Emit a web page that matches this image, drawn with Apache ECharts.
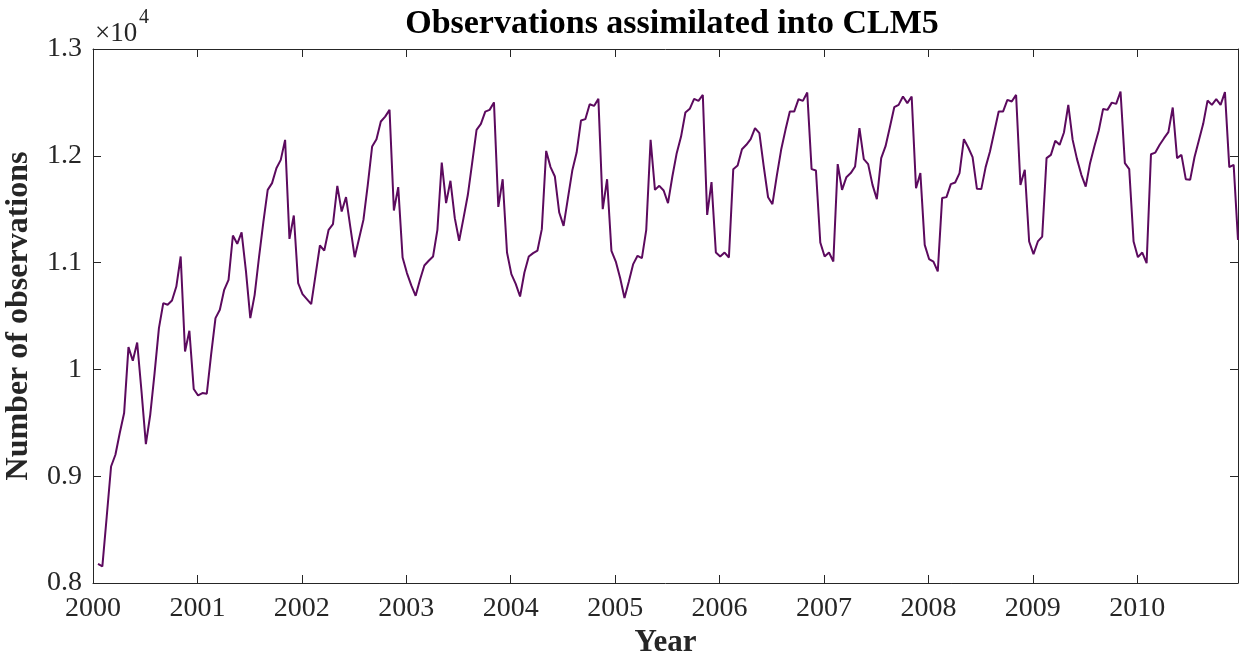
<!DOCTYPE html>
<html>
<head>
<meta charset="utf-8">
<script src="https://cdn.jsdelivr.net/npm/echarts@6/dist/echarts.min.js"></script>
<style>
html,body{margin:0;padding:0;background:#fff;}
#chart{width:1243px;height:656px;}
</style>
</head>
<body>
<div id="chart"></div>
<script>
// Semi-monthly observation counts, starting early Jan 2000
const startYear = 2000.048;
const stepYears = 1 / 24;
const observations = [
8178,8155,8620,9091,9201,9404,9591,10209,10081,10252,9793,9301,9575,9966,10387,10621,10605,10645,10776,11057,10168,10362,9816,9756,
9778,9772,10140,10480,10558,10745,10839,11254,11176,11282,10920,10480,10698,11050,11380,11681,11744,11884,11962,12149,11222,11441,10808,10705,
10658,10611,10886,11160,11113,11307,11360,11719,11478,11613,11330,11051,11225,11400,11728,12087,12156,12321,12367,12430,11488,11707,11048,10902,
10786,10689,10839,10973,11017,11057,11307,11937,11557,11766,11416,11204,11416,11635,11937,12243,12299,12414,12430,12500,11522,11781,11094,10892,
10801,10683,10907,11057,11089,11113,11313,12046,11894,11806,11469,11344,11604,11862,12030,12330,12343,12483,12467,12533,11501,11781,11110,11010,
10855,10668,10823,10986,11064,11042,11307,12149,11681,11719,11675,11557,11806,12025,12180,12405,12440,12533,12515,12570,11447,11753,11094,11057,
11094,11048,11875,11909,12062,12103,12156,12259,12212,11900,11612,11547,11812,12056,12243,12414,12414,12530,12514,12592,11875,11862,11188,11057,
11094,11010,11922,11681,11800,11838,11900,12259,11969,11922,11728,11594,11978,12090,12270,12455,12477,12555,12493,12555,11697,11838,11166,11033,
11010,10917,11604,11613,11735,11750,11838,12156,12078,11987,11691,11688,11894,12040,12227,12414,12414,12524,12508,12570,11728,11869,11198,11079,
11198,11244,11978,12009,12140,12103,12218,12477,12149,11969,11822,11712,11931,12090,12237,12439,12430,12498,12486,12602,11931,11875,11198,11051,
11094,10995,12015,12030,12103,12165,12221,12452,11978,12009,11781,11775,11987,12143,12299,12517,12477,12530,12477,12596,11894,11915,11213
];
const yearTicks = [2000,2001,2002,2003,2004,2005,2006,2007,2008,2009,2010];
const yTicks = [8000,9000,10000,11000,12000,13000];

const seriesData = observations.map((v, i) => [startYear + i * stepYears, v]);
const xMax = startYear + (observations.length - 1) * stepYears;

const serif = '"Liberation Serif", "DejaVu Serif", serif';
const axisCol = '#262626';
const lineCol = '#5c0a5e';

const chart = echarts.init(document.getElementById('chart'), null, {renderer: 'canvas'});
const baseX = {
  type: 'value', min: 2000, max: xMax, interval: 1,
  axisLine: {show: true, onZero: false, lineStyle: {color: axisCol, width: 1}},
  splitLine: {show: false}
};
const baseY = {
  type: 'value', min: 8000, max: 13000, interval: 1000,
  axisLine: {show: true, onZero: false, lineStyle: {color: axisCol, width: 1}},
  splitLine: {show: false}
};
chart.setOption({
  animation: false,
  backgroundColor: '#fff',
  title: {
    text: 'Observations assimilated into CLM5',
    left: 667, top: 2, textAlign: 'center',
    textStyle: {fontFamily: serif, fontWeight: 'bold', fontSize: 34, color: '#000'}
  },
  grid: {left: 93, right: 5, top: 49, bottom: 73, containLabel: false, outerBoundsMode: 'none'},
  xAxis: [
    Object.assign({}, baseX, {
      position: 'bottom',
      name: 'Year', nameLocation: 'middle', nameGap: 42,
      nameTextStyle: {fontFamily: serif, fontWeight: 'bold', fontSize: 31, color: axisCol},
      axisTick: {show: true, inside: true, length: 8, customValues: yearTicks, lineStyle: {color: axisCol}},
      axisLabel: {show: true, margin: 12, fontFamily: serif, fontSize: 28, color: axisCol,
        customValues: yearTicks,
        formatter: v => (Math.abs(v - Math.round(v)) < 1e-6 ? String(Math.round(v)) : '')}
    }),
    Object.assign({}, baseX, {
      position: 'top',
      axisTick: {show: true, inside: true, length: 8, customValues: yearTicks, lineStyle: {color: axisCol}},
      axisLabel: {show: false}
    })
  ],
  yAxis: [
    Object.assign({}, baseY, {
      position: 'left',
      name: 'Number of observations', nameLocation: 'middle', nameGap: 58, nameRotate: 90,
      nameTextStyle: {fontFamily: serif, fontWeight: 'bold', fontSize: 32, color: axisCol},
      axisTick: {show: true, inside: true, length: 8, lineStyle: {color: axisCol}},
      axisLabel: {show: true, margin: 11, fontFamily: serif, fontSize: 28, color: axisCol,
        formatter: v => String(Math.round(v / 1000) / 10)}
    }),
    Object.assign({}, baseY, {
      position: 'right',
      axisTick: {show: true, inside: true, length: 8, lineStyle: {color: axisCol}},
      axisLabel: {show: false}
    })
  ],
  graphic: [
    {type: 'text', left: 95, top: 20,
     style: {text: '×10', font: '27px "Liberation Serif"', fill: axisCol}},
    {type: 'text', left: 139, top: 8,
     style: {text: '4', font: '20px "Liberation Serif"', fill: axisCol}}
  ],
  series: [{
    type: 'line', data: seriesData, xAxisIndex: 0, yAxisIndex: 0,
    showSymbol: false, symbol: 'none',
    lineStyle: {color: lineCol, width: 2},
    clip: true
  }]
});
</script>
</body>
</html>
